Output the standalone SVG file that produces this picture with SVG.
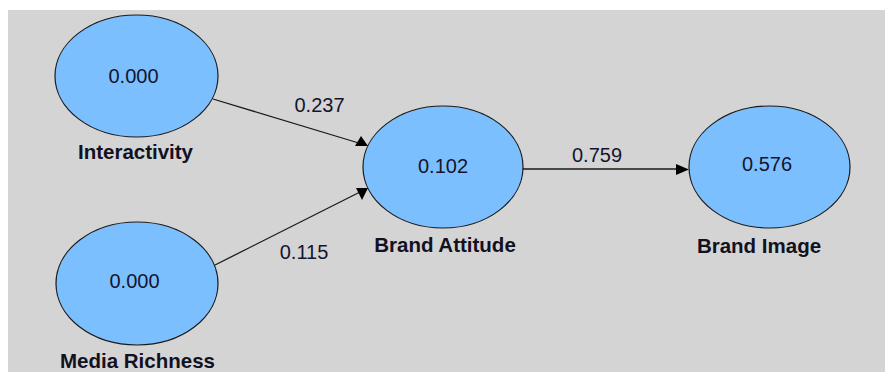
<svg xmlns="http://www.w3.org/2000/svg" width="885" height="372" viewBox="0 0 885 372">
<style>
.node ellipse{fill:#7cbfff;stroke:#1a1a1a;stroke-width:1.2}
.val{font-family:"Liberation Sans",Arial,sans-serif;font-size:20px;fill:#14142e;text-anchor:middle}
.lbl{font-family:"Liberation Sans",Arial,sans-serif;font-size:20.5px;font-weight:bold;fill:#111122;text-anchor:middle}
.edge line{stroke:#1a1a1a;stroke-width:1.3}
.edge polygon{fill:#000}
</style>
<rect x="0" y="0" width="885" height="372" fill="#ffffff"/>
<rect x="8" y="10" width="877" height="362" fill="#d4d4d4"/>
<g id="connectors" class="edge">
<line x1="213" y1="99" x2="362" y2="144"/>
<polygon points="355,146 368,146 361,136"/>
<line x1="215" y1="265" x2="362" y2="191"/>
<polygon points="356,188 368,188 362,200"/>
<line x1="523" y1="169" x2="680" y2="169"/>
<polygon points="676,164 689,169.5 676,175"/>
<text class="val" x="319.5" y="111.5">0.237</text>
<text class="val" x="304" y="259">0.115</text>
<text class="val" x="597" y="162">0.759</text>
</g>
<g id="interactivity" class="node">
<ellipse cx="136.5" cy="76" rx="81.5" ry="61"/>
<text class="val" x="133.5" y="83">0.000</text>
<text class="lbl" x="135.5" y="159">Interactivity</text>
</g>
<g id="media-richness" class="node">
<ellipse cx="137" cy="283.5" rx="81" ry="61.5"/>
<text class="val" x="134.5" y="288">0.000</text>
<text class="lbl" x="137.5" y="368">Media Richness</text>
</g>
<g id="brand-attitude" class="node">
<ellipse cx="443" cy="167" rx="80" ry="61"/>
<text class="val" x="443" y="172.5">0.102</text>
<text class="lbl" x="445" y="251.5">Brand Attitude</text>
</g>
<g id="brand-image" class="node">
<ellipse cx="769.5" cy="167" rx="80.5" ry="61"/>
<text class="val" x="767" y="170.5">0.576</text>
<text class="lbl" x="759" y="253">Brand Image</text>
</g>
</svg>
